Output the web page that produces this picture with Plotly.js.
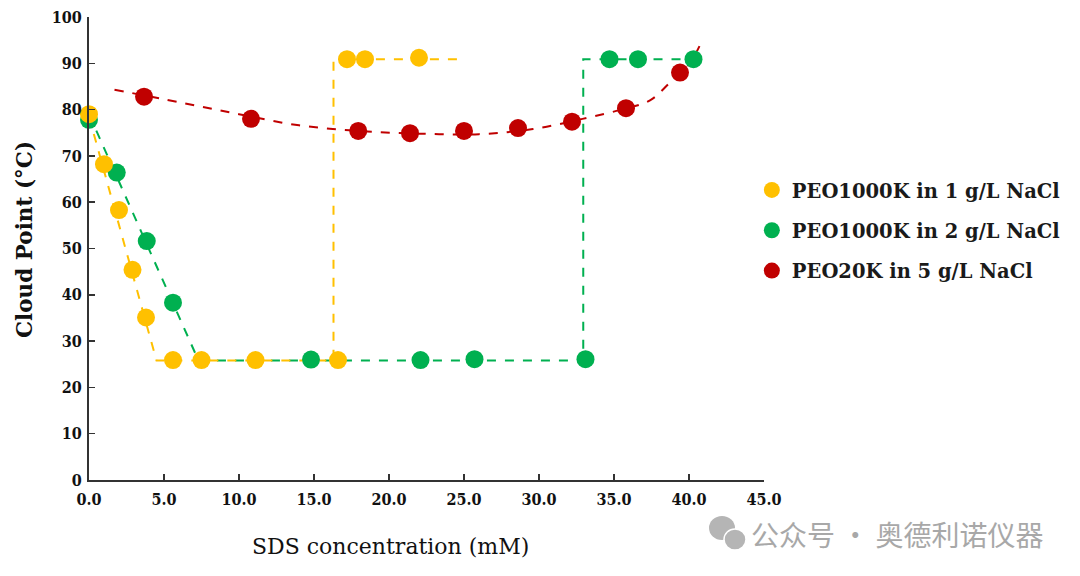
<!DOCTYPE html>
<html><head><meta charset="utf-8">
<script src="https://cdn.plot.ly/plotly-3.0.1.min.js"></script>
<style>html,body{margin:0;padding:0;background:#fff}#chart{width:1080px;height:576px}</style>
</head><body><div id="chart"></div>
<script>
// PEO1000K in 1 g/L NaCl
const yellowX = [0, 1.0, 2.0, 2.9, 3.8, 5.6, 7.5, 11.1, 16.6, 17.2, 18.4, 22.0];
const yellowY = [79, 68.2, 58.3, 45.4, 35.1, 25.9, 25.9, 25.9, 25.9, 90.9, 90.9, 91.2];
const yellowFitX = [0, 4.5, 16.3, 16.3, 24.7];
const yellowFitY = [78.5, 25.8, 25.8, 90.9, 90.9];
// PEO1000K in 2 g/L NaCl
const greenX = [0, 1.85, 3.85, 5.6, 14.8, 22.1, 25.7, 33.1, 34.7, 36.6, 40.3];
const greenY = [77.8, 66.4, 51.6, 38.3, 26.0, 25.9, 26.1, 26.1, 90.9, 90.9, 90.9];
const greenFitX = [0, 7.3, 32.95, 32.95, 41.2];
const greenFitY = [79, 25.8, 25.8, 90.9, 90.9];
// PEO20K in 5 g/L NaCl
const redX = [3.67, 10.8, 17.95, 21.4, 25.0, 28.6, 32.2, 35.8, 39.4];
const redY = [82.8, 78.0, 75.4, 74.9, 75.4, 76.0, 77.4, 80.3, 88.0];
const redFitX = [1.7, 6, 10, 14, 18, 22, 26, 29.6, 32.9, 35.5, 37.4, 38.9, 40.0, 40.7];
const redFitY = [84.3, 81.6, 79.0, 76.6, 75.4, 74.8, 74.7, 75.8, 78.0, 80.0, 82.0, 86.4, 89.8, 93.7];

const names = ["PEO1000K in 1 g/L NaCl", "PEO1000K in 2 g/L NaCl", "PEO20K in 5 g/L NaCl"];
const yTicks = [0,10,20,30,40,50,60,70,80,90,100];
const xTicks = [0,5,10,15,20,25,30,35,40,45];
const xTickText = ["0.0","5.0","10.0","15.0","20.0","25.0","30.0","35.0","40.0","45.0"];
const xTitle = "SDS concentration (mM)";
const yTitle = "Cloud Point (°C)";
const watermark = "公众号 · 奥德利诺仪器";

const cY = "#FFC000", cG = "#00B050", cR = "#C00000";
const serif = "DejaVu Serif, Liberation Serif, serif";
const serifC = "DejaVu Serif Condensed, DejaVu Serif, serif";

function fit(x, y, c, spline){
  return {x:x, y:y, mode:"lines", type:"scatter", showlegend:false, hoverinfo:"skip",
    line:{color:c, width:2, dash:"dash", shape: spline ? "spline" : "linear"}, cliponaxis:false};
}
function pts(x, y, c, n, g, r){
  return {x:x, y:y, mode:"markers", type:"scatter", name:n, legendgroup:g, legendrank:r,
    marker:{color:c, size:18, line:{width:0}}, cliponaxis:false};
}
const data = [
  fit(redFitX, redFitY, cR, true), fit(greenFitX, greenFitY, cG, false), fit(yellowFitX, yellowFitY, cY, false),
  pts(redX, redY, cR, names[2], "c", 3),
  pts(greenX, greenY, cG, names[1], "b", 2),
  pts(yellowX, yellowY, cY, names[0], "a", 1)
];
function px(p){return (p-89)/675;}
function py(p){return (480-p)/463;}
const layout = {
  width:1080, height:576,
  margin:{l:89, r:316, t:17, b:96, autoexpand:false},
  paper_bgcolor:"#fff", plot_bgcolor:"#fff",
  showlegend:true,
  legend:{x:0.982, y:0.668, xanchor:"left", yanchor:"top", traceorder:"grouped", tracegroupgap:12,
    itemwidth:30, font:{family:serif, size:19.5, color:"#1a1a1a", weight:"bold"}},
  xaxis:{range:[0,45], tickvals:xTicks, ticktext:xTickText, ticks:"inside", ticklen:6, tickwidth:1.5, tickcolor:"#333",
    showline:true, linecolor:"#333", linewidth:2, showgrid:false, zeroline:false, ticklabelstandoff:4,
    tickfont:{family:serifC, size:16, color:"#111", weight:"bold"}},
  yaxis:{range:[0,100], tickvals:yTicks, ticks:"inside", ticklen:6, tickwidth:1.5, tickcolor:"#333",
    showline:true, linecolor:"#333", linewidth:2, showgrid:false, zeroline:false, ticklabelstandoff:2,
    tickfont:{family:serifC, size:16, color:"#111", weight:"bold"}},
  shapes:[
    {type:"circle", xref:"paper", yref:"paper", x0:px(709), x1:px(735), y0:py(540), y1:py(516), fillcolor:"#b5b5b5", line:{width:0}},
    {type:"circle", xref:"paper", yref:"paper", x0:px(724), x1:px(746), y0:py(550), y1:py(529), fillcolor:"#b5b5b5", line:{color:"#fff", width:1.5}}
  ],
  annotations:[
    {text:xTitle, xref:"paper", yref:"paper", x:px(390), y:py(546), xanchor:"center", yanchor:"middle",
     showarrow:false, font:{family:serif, size:22, color:"#111"}},
    {text:yTitle, xref:"paper", yref:"paper", x:px(25), y:py(240), xanchor:"center", yanchor:"middle", textangle:-90,
     showarrow:false, font:{family:serif, size:21.5, color:"#111", weight:"bold"}},
    {text:watermark, xref:"paper", yref:"paper", x:px(749), y:py(534), xanchor:"left", yanchor:"middle",
     showarrow:false, font:{family:"Noto Sans CJK SC", size:28, color:"#a8a8a8"}}
  ]
};
Plotly.newPlot("chart", data, layout, {displayModeBar:false, staticPlot:true});
</script></body></html>
